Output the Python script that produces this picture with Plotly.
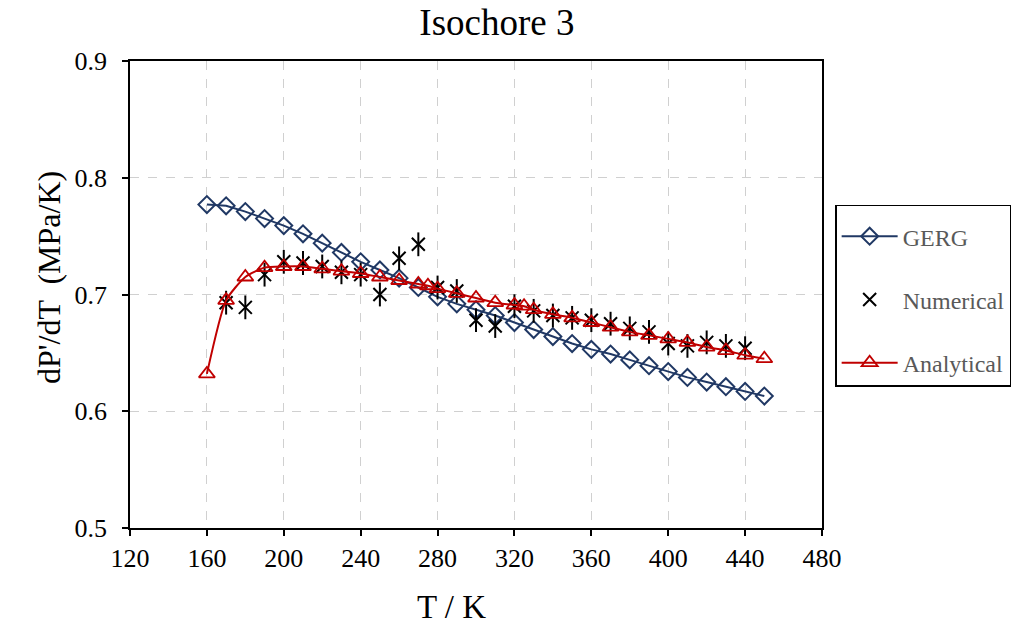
import plotly.graph_objects as go

# ---- data ----
T_gerg = [160, 170, 180, 190, 200, 210, 220, 230, 240, 250, 260, 270, 280, 290, 300,
          310, 320, 330, 340, 350, 360, 370, 380, 390, 400, 410, 420, 430, 440, 450]
gerg = [0.777, 0.776, 0.771, 0.765, 0.759, 0.752, 0.744, 0.736, 0.728, 0.721, 0.714, 0.706,
        0.698, 0.692, 0.687, 0.682, 0.676, 0.670, 0.664, 0.658, 0.653, 0.649, 0.644, 0.639,
        0.634, 0.629, 0.625, 0.621, 0.617, 0.613]

T_num = [170, 180, 190, 200, 210, 220, 230, 240, 250, 260, 270, 280, 290, 300, 310,
         320, 330, 340, 350, 360, 370, 380, 390, 400, 410, 420, 430, 440]
numerical = [0.693, 0.689, 0.717, 0.728, 0.727, 0.724, 0.719, 0.717, 0.700, 0.731, 0.743,
             0.706, 0.703, 0.678, 0.673, 0.690, 0.686, 0.682, 0.680, 0.678, 0.675, 0.671,
             0.668, 0.658, 0.656, 0.659, 0.656, 0.654]

T_ana = [160, 170, 180, 190, 200, 210, 220, 230, 240, 250, 260, 270, 275, 280, 290, 300,
         310, 320, 325, 330, 340, 350, 360, 370, 380, 390, 400, 410, 420, 430, 440, 450]
analytical = [0.632, 0.695, 0.715, 0.723, 0.724, 0.724, 0.722, 0.720, 0.718, 0.715, 0.712,
              0.709, 0.7075, 0.705, 0.701, 0.697, 0.693, 0.691, 0.690, 0.687, 0.683, 0.680,
              0.676, 0.672, 0.668, 0.665, 0.662, 0.659, 0.655, 0.652, 0.648, 0.645]

x_ticks = [120, 160, 200, 240, 280, 320, 360, 400, 440, 480]
y_ticks = [0.5, 0.6, 0.7, 0.8, 0.9]

NAVY = "#203864"
RED = "#C00000"
FONT = "Liberation Serif"

fig = go.Figure()
fig.add_trace(go.Scatter(
    x=T_gerg, y=gerg, name="GERG", mode="lines+markers", legendgroup="g",
    line=dict(color=NAVY, width=2),
    marker=dict(symbol="diamond-open", size=13, color=NAVY, line=dict(width=2, color=NAVY)),
))
fig.add_trace(go.Scatter(
    x=T_num, y=numerical, name="Numerical", mode="markers", legendgroup="n",
    marker=dict(symbol="x-thin-open", size=13, color="black", line=dict(width=2, color="black")),
))
fig.add_trace(go.Scatter(
    x=T_num, y=numerical, name="Numerical", mode="markers", legendgroup="n", showlegend=False,
    marker=dict(symbol="line-ns-open", size=17, color="black", line=dict(width=2, color="black")),
))
fig.add_trace(go.Scatter(
    x=T_ana, y=analytical, name="Analytical", mode="lines+markers", legendgroup="a",
    line=dict(color=RED, width=2, shape="spline", smoothing=0.6),
    marker=dict(symbol="triangle-up-open", size=14, color=RED, line=dict(width=1.8, color=RED)),
))

fig.update_layout(
    width=1012, height=635,
    margin=dict(l=130, r=190, t=61, b=107, autoexpand=False),
    paper_bgcolor="white", plot_bgcolor="white",
    font=dict(family=FONT, size=26, color="black"),
    title=dict(text="Isochore 3", x=0.491, xanchor="center", y=0.965, yanchor="middle",
               font=dict(family=FONT, size=37, color="black")),
    legend=dict(x=1.019, xanchor="left", y=0.692, yanchor="top",
                bgcolor="white", bordercolor="black", borderwidth=1.5,
                font=dict(family=FONT, size=24, color="#595959"),
                title=dict(text="\u00a0", font=dict(size=6)),
                tracegroupgap=29, itemwidth=56, entrywidth=164),
    showlegend=True,
    annotations=[
        dict(text="T / K", xref="paper", yref="paper", x=0.464, y=-0.17,
             xanchor="center", yanchor="middle", showarrow=False,
             font=dict(family=FONT, size=33, color="black")),
        dict(text="dP'/dT  (MPa/K)", xref="paper", yref="paper", x=-0.118, y=0.536,
             xanchor="center", yanchor="middle", showarrow=False, textangle=-90,
             font=dict(family=FONT, size=32, color="black")),
    ],
)
fig.update_xaxes(
    range=[120, 480], tickvals=x_ticks, ticktext=[str(v) for v in x_ticks],
    tickfont=dict(family=FONT, size=26),
    showline=True, linecolor="black", linewidth=1.5, mirror=True,
    ticks="outside", ticklen=6, tickcolor="black", tickwidth=1.5,
    showgrid=True, gridcolor="#d0d0d0", griddash="dash", gridwidth=1,
    zeroline=False,
)
fig.update_yaxes(
    range=[0.5, 0.9], tickvals=y_ticks, ticktext=[f"{v:.1f}" for v in y_ticks],
    tickfont=dict(family=FONT, size=26), ticklabelstandoff=10,
    showline=True, linecolor="black", linewidth=1.5, mirror=True,
    ticks="outside", ticklen=6, tickcolor="black", tickwidth=1.5,
    showgrid=True, gridcolor="#d0d0d0", griddash="dash", gridwidth=1,
    zeroline=False,
)

fig.write_html("out.html")
